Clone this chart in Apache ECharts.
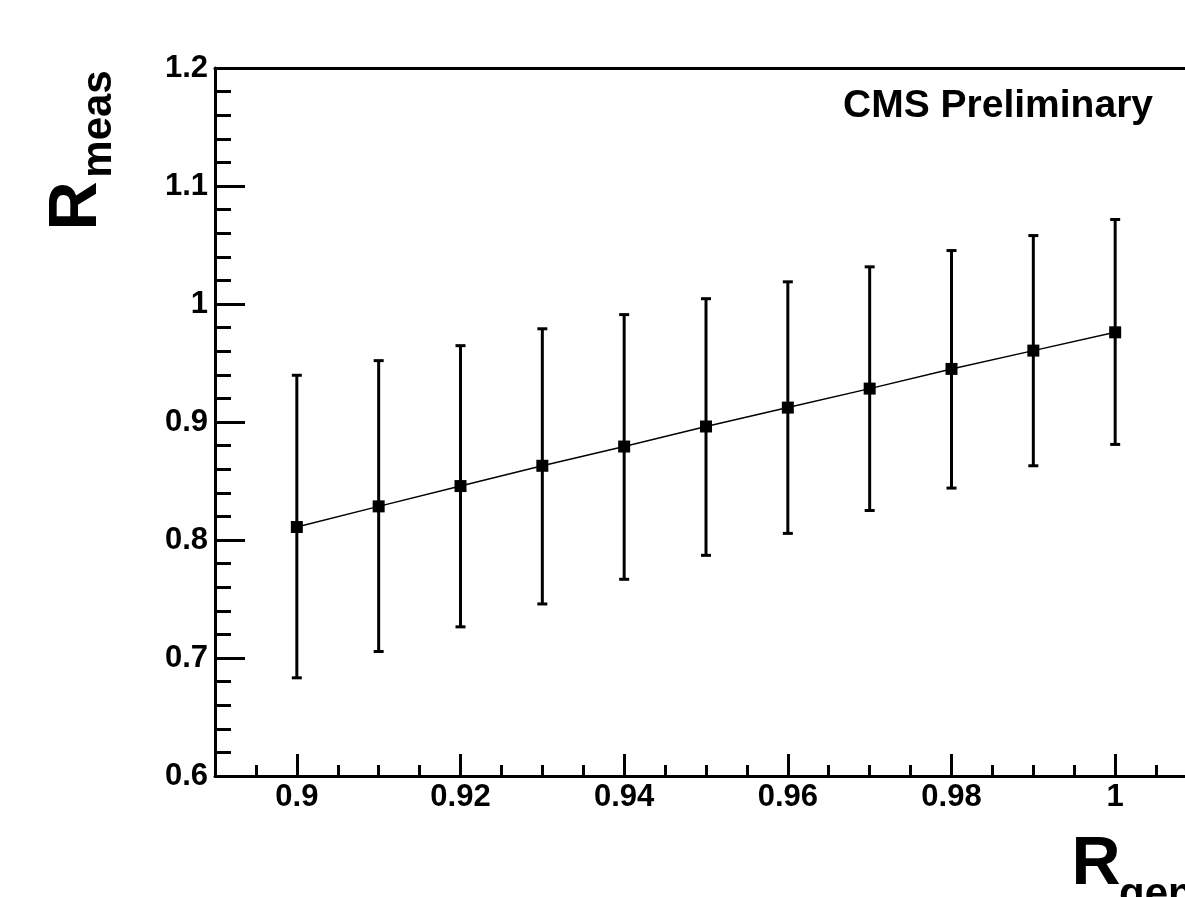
<!DOCTYPE html>
<html>
<head>
<meta charset="utf-8">
<script src="https://cdn.jsdelivr.net/npm/echarts@6/dist/echarts.min.js"></script>
<style>
  html, body { margin: 0; padding: 0; background: #fff; }
  #chart { width: 1185px; height: 897px; }
</style>
</head>
<body>
<div id="chart"></div>
<script>
// R_meas vs R_gen
const xValues = [0.9, 0.91, 0.92, 0.93, 0.94, 0.95, 0.96, 0.97, 0.98, 0.99, 1.0];
const yValues = [0.811, 0.8285, 0.8457, 0.8629, 0.8792, 0.8962, 0.9122, 0.9283, 0.945, 0.9605, 0.976];
const barHigh = [0.9396, 0.952, 0.9647, 0.979, 0.991, 1.0045, 1.0188, 1.0315, 1.0453, 1.058, 1.0716];
const barLow = [0.6832, 0.7055, 0.7264, 0.7458, 0.7667, 0.787, 0.8056, 0.825, 0.844, 0.8629, 0.881];

const xTickLabels = [0.9, 0.92, 0.94, 0.96, 0.98, 1];
const xMinorTicks = [0.895, 0.905, 0.91, 0.915, 0.925, 0.93, 0.935, 0.945, 0.95, 0.955,
  0.965, 0.97, 0.975, 0.985, 0.99, 0.995, 1.005];
const yTickLabels = [0.6, 0.7, 0.8, 0.9, 1, 1.1, 1.2];

const FONT = "'Liberation Sans', Arial, Helvetica, sans-serif";

const myChart = echarts.init(document.getElementById('chart'));

const points = xValues.map((x, i) => [x, yValues[i]]);
const bars = xValues.map((x, i) => [x, barLow[i], barHigh[i]]);

const labelStyle = {
  color: '#000',
  fontFamily: FONT,
  fontWeight: 'bold',
  fontSize: 31,
};

const option = {
  animation: false,
  backgroundColor: '#fff',
  grid: {
    left: 215,
    top: 68,
    right: -12,
    bottom: 121,
    outerBoundsMode: 'none',
  },
  xAxis: [
    {
      type: 'value',
      min: 0.89,
      max: 1.01,
      position: 'bottom',
      splitLine: { show: false },
      axisLine: { show: true, lineStyle: { color: '#000', width: 3 } },
      axisTick: {
        show: true,
        inside: true,
        length: 22,
        customValues: xTickLabels,
        lineStyle: { color: '#000', width: 3 },
      },
      axisLabel: {
        ...labelStyle,
        margin: 6,
        customValues: xTickLabels,
      },
    },
    {
      // minor ticks
      type: 'value',
      min: 0.89,
      max: 1.01,
      position: 'bottom',
      splitLine: { show: false },
      axisLine: { show: false },
      axisTick: {
        show: true,
        inside: true,
        length: 11,
        customValues: xMinorTicks,
        lineStyle: { color: '#000', width: 3 },
      },
      axisLabel: { show: false },
    },
    {
      // top frame
      type: 'value',
      min: 0.89,
      max: 1.01,
      position: 'top',
      splitLine: { show: false },
      axisLine: { show: true, lineStyle: { color: '#000', width: 3 } },
      axisTick: { show: false },
      axisLabel: { show: false },
    },
  ],
  yAxis: {
    type: 'value',
    min: 0.6,
    max: 1.2,
    interval: 0.1,
    splitLine: { show: false },
    axisLine: { show: true, lineStyle: { color: '#000', width: 3 } },
    axisTick: {
      show: true,
      inside: true,
      length: 30,
      customValues: yTickLabels,
      lineStyle: { color: '#000', width: 3 },
    },
    minorTick: {
      show: true,
      splitNumber: 5,
      length: 16,
      lineStyle: { color: '#000', width: 3 },
    },
    axisLabel: {
      ...labelStyle,
      margin: 7,
      customValues: yTickLabels,
    },
  },
  graphic: [
    {
      type: 'text',
      x: 1153,
      y: 106,
      style: {
        text: 'CMS Preliminary',
        fill: '#000',
        font: 'bold 39px ' + FONT,
        textAlign: 'right',
        textVerticalAlign: 'middle',
      },
    },
    // y title: R_meas, rotated
    {
      type: 'text',
      x: 77,
      y: 206,
      rotation: Math.PI / 2,
      style: {
        text: 'R',
        fill: '#000',
        font: 'bold 68px ' + FONT,
        textAlign: 'center',
        textVerticalAlign: 'middle',
      },
    },
    {
      type: 'text',
      x: 99,
      y: 124,
      rotation: Math.PI / 2,
      style: {
        text: 'meas',
        fill: '#000',
        font: 'bold 42px ' + FONT,
        textAlign: 'center',
        textVerticalAlign: 'middle',
      },
    },
    // x title: R_gen
    {
      type: 'text',
      x: 1096,
      y: 865,
      style: {
        text: 'R',
        fill: '#000',
        font: 'bold 68px ' + FONT,
        textAlign: 'center',
        textVerticalAlign: 'middle',
      },
    },
    {
      type: 'text',
      x: 1119,
      y: 895,
      style: {
        text: 'gen',
        fill: '#000',
        font: 'bold 42px ' + FONT,
        textAlign: 'left',
        textVerticalAlign: 'middle',
      },
    },
  ],
  series: [
    {
      // error bars
      type: 'custom',
      xAxisIndex: 0,
      data: bars,
      encode: { x: 0, y: [1, 2] },
      z: 2,
      renderItem: function (params, api) {
        const x = api.value(0);
        const top = api.coord([x, api.value(2)]);
        const bot = api.coord([x, api.value(1)]);
        const half = 5;
        const style = { stroke: '#000', lineWidth: 3 };
        return {
          type: 'group',
          children: [
            { type: 'line', shape: { x1: top[0], y1: top[1], x2: bot[0], y2: bot[1] }, style },
            { type: 'line', shape: { x1: top[0] - half, y1: top[1], x2: top[0] + half, y2: top[1] }, style },
            { type: 'line', shape: { x1: bot[0] - half, y1: bot[1], x2: bot[0] + half, y2: bot[1] }, style },
          ],
        };
      },
    },
    {
      type: 'line',
      xAxisIndex: 0,
      data: points,
      z: 3,
      symbol: 'rect',
      symbolSize: 12,
      itemStyle: { color: '#000' },
      lineStyle: { color: '#000', width: 1.5 },
    },
  ],
};

option && myChart.setOption(option);
</script>
</body>
</html>
